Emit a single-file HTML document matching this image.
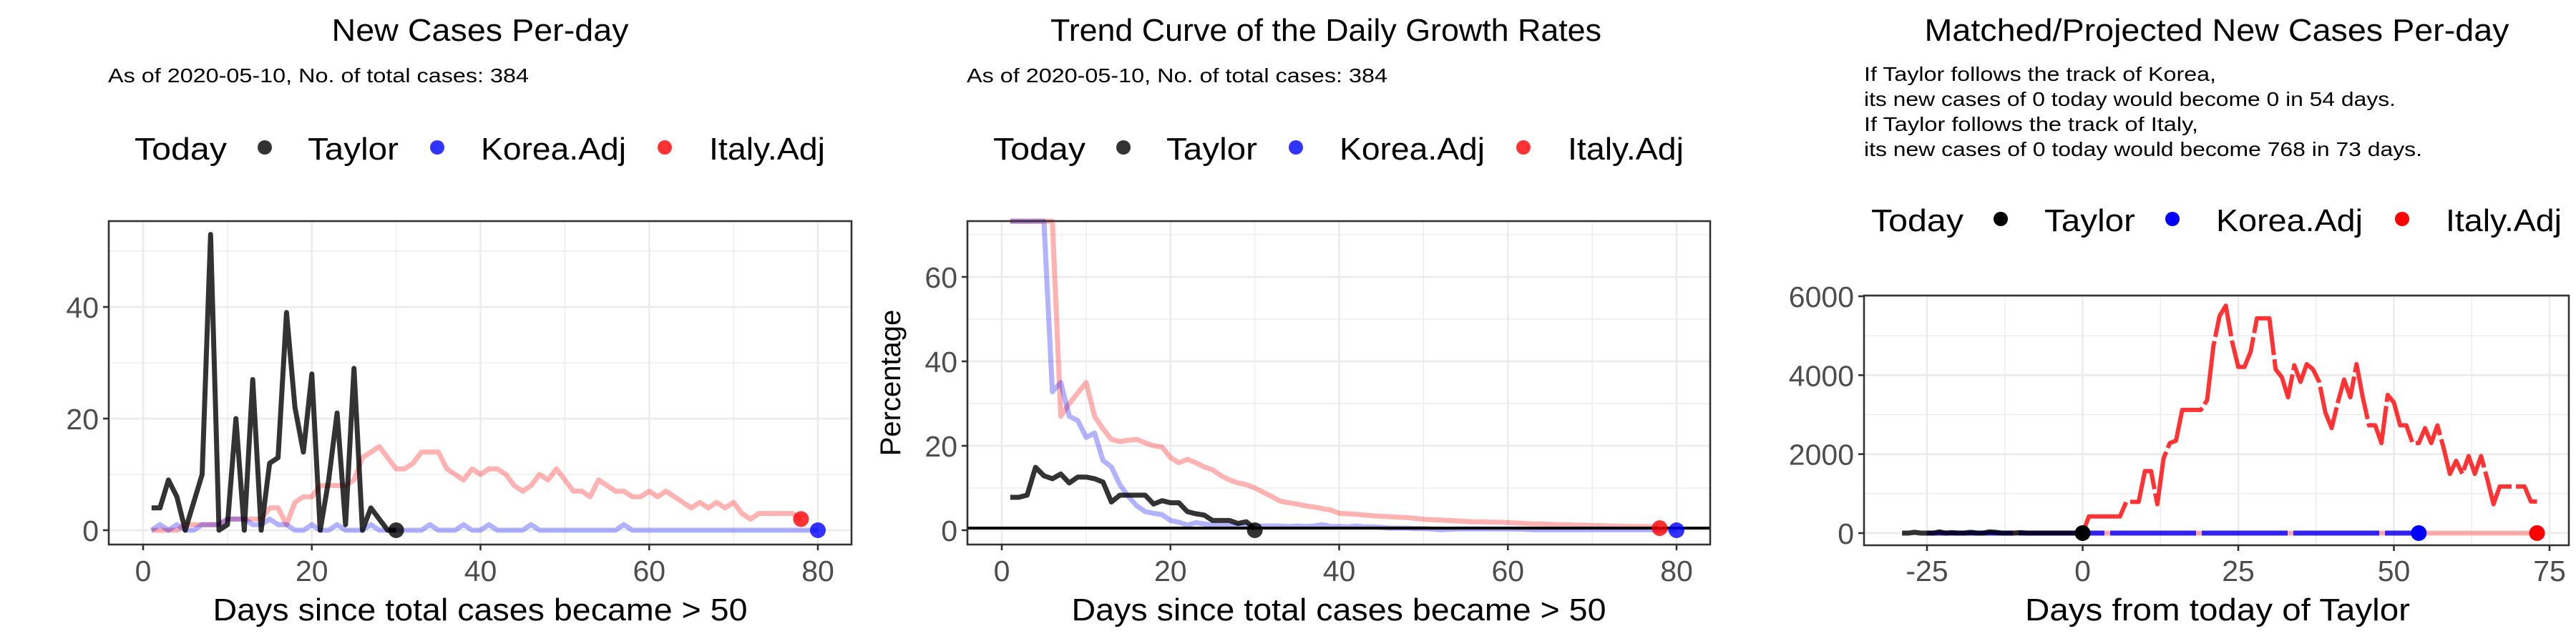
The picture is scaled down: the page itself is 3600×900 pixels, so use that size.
<!DOCTYPE html>
<html><head><meta charset="utf-8"><style>
html,body{margin:0;padding:0;background:#fff;}
svg{display:block;font-family:"Liberation Sans",Arial,sans-serif;}
</style></head><body>
<svg id="svg" width="3600" height="900" xmlns="http://www.w3.org/2000/svg">
<rect width="3600" height="900" fill="#fff"/>
<g id="root"></g>
</svg>
<script>
// ---- Panel 1 data: new cases per day ----
const p1Days = Array.from({length:80},(_,i)=>i+1);
const p1Taylor = [4,4,9,6,0,5,10,53,0,1,20,0,27,0,12,13,39,22,14,28,0,9,21,1,29,0,4,2,0,0];
const p1Italy = [0,0,0,0,1,1,1,1,1,2,2,2,2,2,4,4,1,5,6,6,8,8,8,8,9,13,14,15,13,11,11,12,14,14,14,11,10,9,11,10,11,11,10,8,7,8,10,9,11,9,7,7,6,9,8,7,7,6,6,7,6,7,6,5,4,5,4,5,4,5,3,2,3,3,3,3,3,2];
const p1Korea = [0,1,0,1,0,0,1,1,1,2,2,2,1,1,2,1,1,0,0,1,0,0,1,0,0,0,1,0,0,0,0,0,0,1,0,0,0,1,0,0,1,0,0,0,0,1,0,0,0,0,0,0,0,0,0,0,1,0,0,0,0,0,0,0,0,0,0,0,0,0,0,0,0,0,0,0,0,0,0,0];
const p1XTicks = [0,20,40,60,80];
const p1YTicks = [0,20,40];
// ---- Panel 2 data: growth rate percentage ----
const p2Taylor = [7.8,7.8,8.3,14.9,12.9,12.2,13.3,11.2,12.6,12.6,12.2,11.4,6.7,8.3,8.3,8.3,8.3,6.2,7,6.5,6.5,4.4,3.9,3.6,2.3,2.3,2.3,1.6,2,0.3];
const p2Korea = [100,100,100,100,90,32.8,35,27,26,22,23,16.5,15,10.8,8,5.8,4.4,4,3.7,2.3,1.9,1.2,1.8,1.5,1.2,1.1,1.1,1,1,1,1,1,1,0.9,1,0.9,1,1.3,0.9,0.9,0.8,1,0.8,0.8,0.7,0.5,0.5,0.5,0.4,0.4,0.3,0.1,0.2,0.3,0.3,0.3,0.3,0.3,0.3,0.3,0.3,0.2,0.1,0.1,0.1,0.1,0.1,0.1,0.1,0.1,0.1,0.1,0.1,0.1,0.1,0.1,0.1,0.1,0.1,0.1];
const p2Italy = [100,100,100,100,100,90,27,30,32.5,35,27,24,21.5,21,21.3,21.5,20.7,20,19.7,17.2,16,16.8,16,15,14.3,12.9,11.9,11.2,10.8,10,9,8,6.9,6.5,6.2,5.8,5.5,5.1,4.8,4,3.9,3.8,3.6,3.4,3.3,3.2,3.1,3,2.8,2.6,2.5,2.4,2.3,2.2,2.1,2,2,1.9,1.9,1.8,1.7,1.6,1.5,1.5,1.4,1.3,1.3,1.2,1.2,1.1,1.1,1,1,0.9,0.9,0.9,0.8,0.5];
const p2YTicks = [0,20,40,60];
// ---- Panel 3 data: projected ----
const p3TaylorDays = Array.from({length:30},(_,i)=>i-29);
const p3TaylorVals = [0,0,20,0,0,0,30,0,10,0,0,20,0,0,30,20,0,0,0,10,0,0,0,0,0,0,0,0,0,0];
const p3KoreaDays = Array.from({length:80},(_,i)=>i-25);
const p3ItalyPastDays = Array.from({length:99},(_,i)=>i-25);
const p3ItalyProjDays = Array.from({length:74},(_,i)=>i);
const p3ItalyProj = [0,420,420,420,420,420,420,790,790,790,1570,1570,730,1890,2280,2340,3120,3120,3120,3120,3370,4730,5500,5760,4860,4210,4210,4600,5440,5440,5440,4150,3950,3440,4250,3830,4280,4150,3830,3050,2660,3310,3890,3440,4280,3440,2730,2730,2280,3500,3310,2730,2730,2280,2280,2660,2280,2730,2150,1500,1830,1500,1950,1500,1950,1370,730,1180,1180,1180,1180,1180,800,800];
const p3XTicks = [-25,0,25,50,75];
const p3YTicks = [0,2000,4000,6000];

const NS="http://www.w3.org/2000/svg";
const root=document.getElementById('root');
function el(tag,attrs,parent,text){const e=document.createElementNS(NS,tag);for(const k in attrs)e.setAttribute(k,attrs[k]);if(text!==undefined)e.textContent=text;(parent||root).appendChild(e);return e;}

function panel(cfg){
  const g=el('g',{});
  
  
  const {L,R,T,B,x0,x1,y0,y1}=cfg;
  const sx=v=>L+(v-x0)/(x1-x0)*(R-L);
  const sy=v=>B-(v-y0)/(y1-y0)*(B-T);
  cfg.sx=sx;cfg.sy=sy;
  cfg.xMinor.forEach(v=>{const l=el('line',{x1:sx(v),x2:sx(v),y1:cfg.PT,y2:cfg.PB,stroke:'#ebebeb','stroke-width':1.3},g);});
  cfg.yMinor.forEach(v=>{const l=el('line',{x1:cfg.PL,x2:cfg.PR,y1:sy(v),y2:sy(v),stroke:'#ebebeb','stroke-width':1.3},g);});
  cfg.xTicks.forEach(v=>{const l=el('line',{x1:sx(v),x2:sx(v),y1:cfg.PT,y2:cfg.PB,stroke:'#ebebeb','stroke-width':2.6},g);});
  cfg.yTicks.forEach(v=>{const l=el('line',{x1:cfg.PL,x2:cfg.PR,y1:sy(v),y2:sy(v),stroke:'#ebebeb','stroke-width':2.6},g);});
  cfg.xTicks.forEach(v=>{
    el('line',{x1:sx(v),x2:sx(v),y1:cfg.PB,y2:cfg.PB+8,stroke:'#333','stroke-width':2.6},g);
    const t=el('text',{x:sx(v),y:812,'text-anchor':'middle','font-size':41,fill:'#4d4d4d'},g,String(v));
    
  });
  cfg.yTicks.forEach(v=>{
    el('line',{x1:cfg.PL-8,x2:cfg.PL,y1:sy(v),y2:sy(v),stroke:'#333','stroke-width':2.6},g);
    const t=el('text',{x:cfg.PL-14,y:sy(v)+15,'text-anchor':'end','font-size':41,fill:'#4d4d4d'},g,String(v));
    
  });
  return g;
}
function line(g,xs,ys,cfg,color,op,name,extra){
  const pts=xs.map((x,i)=>cfg.sx(x).toFixed(1)+','+cfg.sy(Math.min(ys[i],cfg.clip||1e9)).toFixed(1)).join(' ');
  const a={points:pts,fill:'none',stroke:color,'stroke-opacity':op,'stroke-width':7,'stroke-linejoin':'round'};
  if(extra)Object.assign(a,extra);
  const p=el('polyline',a,g);
  
  
  return p;
}
function dot(g,x,y,cfg,color,op,name){
  const c=el('circle',{cx:cfg.sx(x),cy:cfg.sy(y),r:11,fill:color,'fill-opacity':op},g);
  
  
}
function border(g,cfg){
  const r=el('rect',{x:cfg.PL,y:cfg.PT,width:cfg.PR-cfg.PL,height:cfg.PB-cfg.PT,fill:'none',stroke:'#333','stroke-width':2.6},g);
  
}
function txt(x,y,s,size,name,anchor,len,extra){
  const a={x:x,y:y,'font-size':size,fill:'#000','text-anchor':anchor||'start'};
  if(len){a.textLength=len;a.lengthAdjust='spacingAndGlyphs';}
  if(extra)Object.assign(a,extra);
  const t=el('text',a,root,s);
  
  
  return t;
}
function legend(y,dy,items,op){
  const g=el('g',{});
  
  
  const t=el('text',{x:items.today[0],y:y,'font-size':44,fill:'#000',textLength:items.today[1]-items.today[0],lengthAdjust:'spacingAndGlyphs'},g,'Today');
  
  items.list.forEach(it=>{
    const c=el('circle',{cx:it.dx,cy:dy,r:10,fill:it.c,'fill-opacity':op},g);
    
    const l=el('text',{x:it.t[0],y:y,'font-size':44,fill:'#000',textLength:it.t[1]-it.t[0],lengthAdjust:'spacingAndGlyphs'},g,it.label);
    
  });
}

// ---------- Panel 1 ----------
const c1={name:'panel-new-cases',PL:152,PR:1190,PT:309,PB:761,L:200,R:1143,T:741-40*7.8,B:741,x0:0,x1:80,y0:0,y1:40,
  xTicks:p1XTicks,yTicks:p1YTicks,xMinor:[10,30,50,70],yMinor:[10,30,50]};
const g1=panel(c1);
line(g1,p1Days.slice(0,p1Italy.length),p1Italy,c1,'#ff0000',0.3,'line-italy-adj');
line(g1,p1Days.slice(0,p1Korea.length),p1Korea,c1,'#0000ff',0.3,'line-korea-adj');
line(g1,p1Days.slice(0,p1Taylor.length),p1Taylor,c1,'#000000',0.8,'line-taylor');
dot(g1,30,p1Taylor[29],c1,'#000',0.8,'today-taylor');
dot(g1,78,p1Italy[77],c1,'#ff0000',0.8,'today-italy');
dot(g1,80,p1Korea[79],c1,'#0000ff',0.8,'today-korea');
border(g1,c1);
txt(671,57,'New Cases Per-day',44,'chart-title-1','middle',415);
txt(151,115,'As of 2020-05-10, No. of total cases: 384',28,'subtitle-1','start',588);
legend(223,206,{today:[188,317],list:[{dx:370,t:[430,557],c:'#000',label:'Taylor'},{dx:611,t:[672,875],c:'#0000ff',label:'Korea.Adj'},{dx:929,t:[991,1153],c:'#ff0000',label:'Italy.Adj'}]},0.8);
txt(671,867,'Days since total cases became > 50',44,'x-axis-title-1','middle',747);

// ---------- Panel 2 ----------
const c2={name:'panel-growth-rate',PL:1352,PR:2390,PT:309,PB:761,L:1400,R:2343,T:387,B:741,x0:0,x1:80,y0:0,y1:60,
  xTicks:p1XTicks,yTicks:p2YTicks,xMinor:[10,30,50,70],yMinor:[10,30,50,70],clip:73.2};
const g2=panel(c2);
line(g2,p1Days.slice(0,p2Italy.length),p2Italy,c2,'#ff0000',0.3,'line-italy-adj');
line(g2,p1Days.slice(0,p2Korea.length),p2Korea,c2,'#0000ff',0.3,'line-korea-adj');
line(g2,p1Days.slice(0,p2Taylor.length),p2Taylor,c2,'#000000',0.8,'line-taylor');
const h=el('line',{x1:c2.PL,x2:c2.PR,y1:c2.sy(0)-3,y2:c2.sy(0)-3,stroke:'#000','stroke-width':4},g2);

dot(g2,30,0,c2,'#000',0.8,'today-taylor');
dot(g2,78,0.5,c2,'#ff0000',0.8,'today-italy');
dot(g2,80,0,c2,'#0000ff',0.8,'today-korea');
border(g2,c2);
txt(1853,57,'Trend Curve of the Daily Growth Rates',44,'chart-title-2','middle',770);
txt(1351,115,'As of 2020-05-10, No. of total cases: 384',28,'subtitle-2','start',588);
legend(223,206,{today:[1388,1517],list:[{dx:1570,t:[1630,1757],c:'#000',label:'Taylor'},{dx:1811,t:[1872,2075],c:'#0000ff',label:'Korea.Adj'},{dx:2129,t:[2191,2353],c:'#ff0000',label:'Italy.Adj'}]},0.8);
txt(1871,867,'Days since total cases became > 50',44,'x-axis-title-2','middle',747);
txt(1258,535,'Percentage',40,'y-axis-title-2','middle',null,{transform:'rotate(-90 1258 535)'});

// ---------- Panel 3 ----------
const c3={name:'panel-projected',PL:2605,PR:3590,PT:413,PB:762,L:2693,R:3563,T:414,B:745,x0:-25,x1:75,y0:0,y1:6000,
  xTicks:p3XTicks,yTicks:p3YTicks,xMinor:[-12.5,12.5,37.5,62.5],yMinor:[1000,3000,5000]};
const g3=panel(c3);
line(g3,p3ItalyPastDays,p3ItalyPastDays.map(()=>0),c3,'#ff0000',0.3,'line-italy-baseline');
line(g3,p3KoreaDays,p3KoreaDays.map(()=>0),c3,'#0000ff',0.8,'line-korea-adj',{'stroke-dasharray':'120 8'});
line(g3,p3TaylorDays,p3TaylorVals,c3,'#000000',0.8,'line-taylor');
line(g3,p3ItalyProjDays,p3ItalyProj,c3,'#ff0000',0.8,'line-italy-projected',{'stroke-dasharray':'90 6','stroke-width':6});
dot(g3,0,0,c3,'#000',1,'today-taylor');
dot(g3,54,0,c3,'#0000ff',1,'today-korea');
dot(g3,73,0,c3,'#ff0000',1,'today-italy');
border(g3,c3);
txt(3098,57,'Matched/Projected New Cases Per-day',44,'chart-title-3','middle',817);
txt(2605,113,'If Taylor follows the track of Korea,',28,'note-line-1','start',492);
txt(2605,148,'its new cases of 0 today would become 0 in 54 days.',28,'note-line-2','start',743);
txt(2605,183,'If Taylor follows the track of Italy,',28,'note-line-3','start',467);
txt(2605,218,'its new cases of 0 today would become 768 in 73 days.',28,'note-line-4','start',780);
legend(323,306,{today:[2615,2744],list:[{dx:2796,t:[2857,2984],c:'#000',label:'Taylor'},{dx:3036,t:[3097,3302],c:'#0000ff',label:'Korea.Adj'},{dx:3357,t:[3418,3580],c:'#ff0000',label:'Italy.Adj'}]},1);
txt(3099,867,'Days from today of Taylor',44,'x-axis-title-3','middle',538);
</script>
</body></html>
